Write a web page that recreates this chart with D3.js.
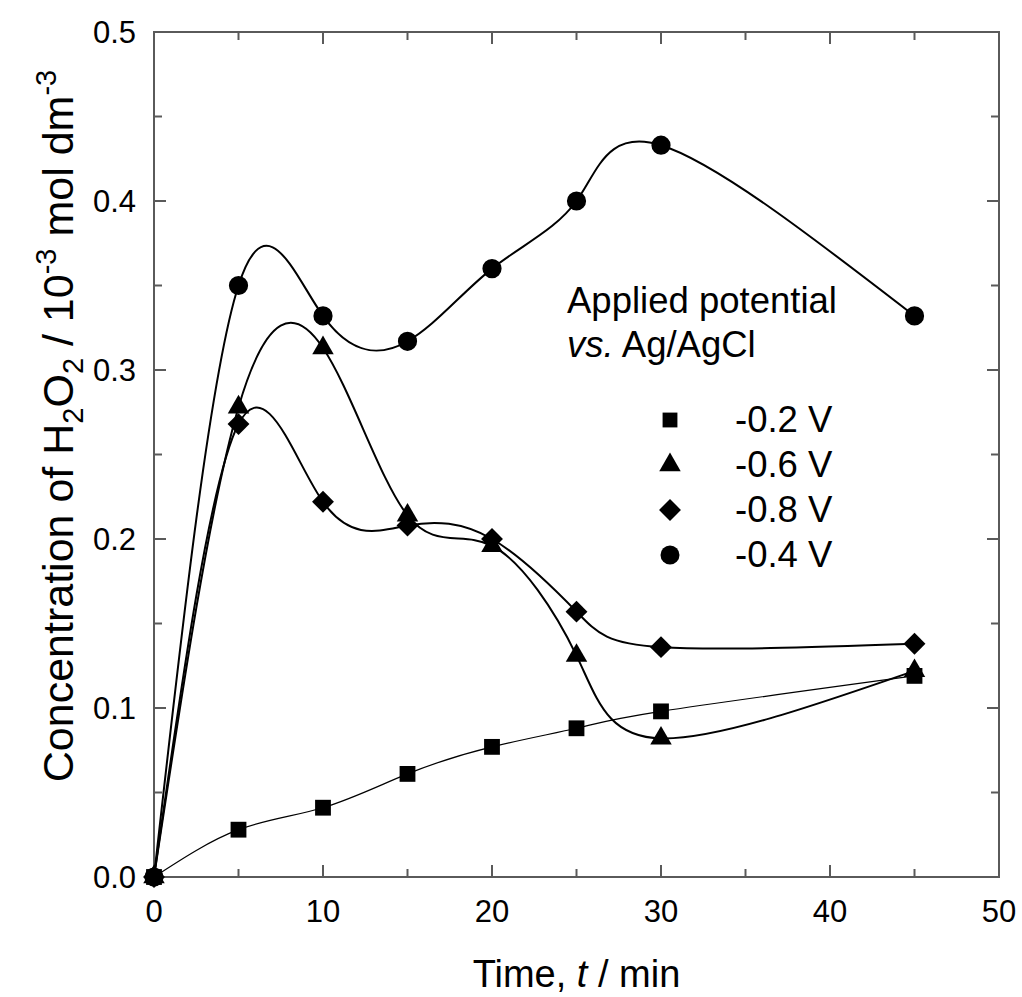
<!DOCTYPE html>
<html>
<head>
<meta charset="utf-8">
<script src="https://d3js.org/d3.v7.min.js"></script>
<style>
  body { margin: 0; background: #fff; }
  text { font-family: "Liberation Sans", Arial, sans-serif; fill: #000; }
</style>
</head>
<body>
<script>
// Time points (min)
const times = [0, 5, 10, 15, 20, 25, 30, 45];

// H2O2 concentration / 10^-3 mol dm^-3 for each applied potential
const conc02 = [0, 0.028, 0.041, 0.061, 0.077, 0.088, 0.098, 0.119];
const conc06 = [0, 0.278, 0.313, 0.214, 0.196, 0.131, 0.082, 0.122];
const conc08 = [0, 0.268, 0.222, 0.208, 0.200, 0.157, 0.136, 0.138];
const conc04 = [0, 0.350, 0.332, 0.317, 0.360, 0.400, 0.433, 0.332];

// Legend labels (legend order)
const legendLabels = ["-0.2 V", "-0.6 V", "-0.8 V", "-0.4 V"];

// Axis ticks
const xTicks = [0, 10, 20, 30, 40, 50];
const xMinor = [5, 15, 25, 35, 45];
const yTicks = [0, 0.1, 0.2, 0.3, 0.4, 0.5];
const yMinor = [0.05, 0.15, 0.25, 0.35, 0.45];

function draw() {
    const W = 1022, H = 997;
    const left = 154, right = 999, top = 32, bottom = 877;

    const svg = d3.select('body')
        .append('svg')
        .attr('width', W)
        .attr('height', H);

    // Scales
    const x = d3.scaleLinear().domain([0, 50]).range([left, right]);
    const y = d3.scaleLinear().domain([0, 0.5]).range([bottom, top]);

    const axisColor = '#5a5a5a';

    // Ticks pointing inward on all four sides
    const ax = svg.append('g').attr('stroke', axisColor).attr('stroke-width', 2);
    xTicks.concat(xMinor).forEach(function(t) {
        const len = xTicks.includes(t) ? 12 : 8;
        ax.append('line').attr('x1', x(t)).attr('x2', x(t)).attr('y1', bottom).attr('y2', bottom - len);
        ax.append('line').attr('x1', x(t)).attr('x2', x(t)).attr('y1', top).attr('y2', top + len);
    });
    yTicks.concat(yMinor).forEach(function(t) {
        const len = yTicks.includes(t) ? 12 : 8;
        ax.append('line').attr('y1', y(t)).attr('y2', y(t)).attr('x1', left).attr('x2', left + len);
        ax.append('line').attr('y1', y(t)).attr('y2', y(t)).attr('x1', right).attr('x2', right - len);
    });

    // Frame
    svg.append('rect')
        .attr('x', left).attr('y', top)
        .attr('width', right - left).attr('height', bottom - top)
        .attr('fill', 'none')
        .attr('stroke', axisColor)
        .attr('stroke-width', 2);

    // Tick labels
    svg.append('g').selectAll('text')
        .data(xTicks)
        .enter().append('text')
        .attr('x', d => x(d))
        .attr('y', bottom + 45)
        .attr('text-anchor', 'middle')
        .style('font-size', '31px')
        .text(d => d);

    svg.append('g').selectAll('text')
        .data(yTicks)
        .enter().append('text')
        .attr('x', left - 18)
        .attr('y', d => y(d) + 11)
        .attr('text-anchor', 'end')
        .style('font-size', '31px')
        .text(d => d3.format('.1f')(d));

    // Series (diamond = square turned 45 degrees)
    const series = [
        { label: "-0.4 V", vals: conc04, sym: d3.symbolCircle, size: 290, rot: 0, lw: 2 },
        { label: "-0.2 V", vals: conc02, sym: d3.symbolSquare, size: 250, rot: 0, lw: 1.2 },
        { label: "-0.6 V", vals: conc06, sym: d3.symbolTriangle, size: 200, rot: 0, lw: 2 },
        { label: "-0.8 V", vals: conc08, sym: d3.symbolSquare, size: 240, rot: 45, lw: 2 }
    ];

    const line = d3.line()
        .x(d => x(d[0]))
        .y(d => y(d[1]))
        .curve(d3.curveNatural);

    series.forEach(function(s) {
        const pts = times.map((t, i) => [t, s.vals[i]]);
        svg.append('path')
            .attr('d', line(pts))
            .attr('fill', 'none')
            .attr('stroke', '#000')
            .attr('stroke-width', s.lw);
    });

    series.forEach(function(s) {
        const pts = times.map((t, i) => [t, s.vals[i]]);
        svg.append('g').selectAll('path')
            .data(pts)
            .enter().append('path')
            .attr('d', d3.symbol().type(s.sym).size(s.size))
            .attr('transform', d => 'translate(' + x(d[0]) + ',' + y(d[1]) + ') rotate(' + s.rot + ')')
            .attr('fill', '#000');
    });

    // Legend
    const legTitle = svg.append('text')
        .attr('x', 567)
        .attr('y', 313)
        .style('font-size', '36.5px');
    legTitle.append('tspan').text('Applied potential');
    legTitle.append('tspan').attr('x', 567).attr('dy', 44).style('font-style', 'italic').text('vs.');
    legTitle.append('tspan').text(' Ag/AgCl');

    const legSyms = {
        "-0.2 V": [d3.symbolSquare, 220, 0],
        "-0.6 V": [d3.symbolTriangle, 200, 0],
        "-0.8 V": [d3.symbolSquare, 240, 45],
        "-0.4 V": [d3.symbolCircle, 283, 0]
    };

    const legend = svg.append('g')
        .selectAll('g')
        .data(legendLabels)
        .enter().append('g')
        .attr('transform', (d, i) => 'translate(0,' + (432 + i * 45) + ')');

    legend.append('path')
        .attr('d', d => d3.symbol().type(legSyms[d][0]).size(legSyms[d][1])())
        .attr('transform', d => 'translate(670,-12) rotate(' + legSyms[d][2] + ')')
        .attr('fill', '#000');

    legend.append('text')
        .attr('x', 735)
        .attr('y', 0)
        .style('font-size', '36.5px')
        .text(d => d);

    // Axis titles
    const xt = svg.append('text')
        .attr('x', (left + right) / 2)
        .attr('y', 987)
        .attr('text-anchor', 'middle')
        .style('font-size', '38px');
    xt.append('tspan').text('Time, ');
    xt.append('tspan').style('font-style', 'italic').text('t');
    xt.append('tspan').text(' / min');

    const yt = svg.append('text')
        .attr('transform', 'translate(73,426) rotate(-90)')
        .attr('text-anchor', 'middle')
        .style('font-size', '43px');
    yt.append('tspan').text('Concentration of H');
    yt.append('tspan').attr('dy', 10).style('font-size', '29px').text('2');
    yt.append('tspan').attr('dy', -10).text('O');
    yt.append('tspan').attr('dy', 10).style('font-size', '29px').text('2');
    yt.append('tspan').attr('dy', -10).text(' / 10');
    yt.append('tspan').attr('dy', -17).style('font-size', '29px').text('-3');
    yt.append('tspan').attr('dy', 17).text(' mol dm');
    yt.append('tspan').attr('dy', -17).style('font-size', '29px').text('-3');
}

draw();
</script>
</body>
</html>
